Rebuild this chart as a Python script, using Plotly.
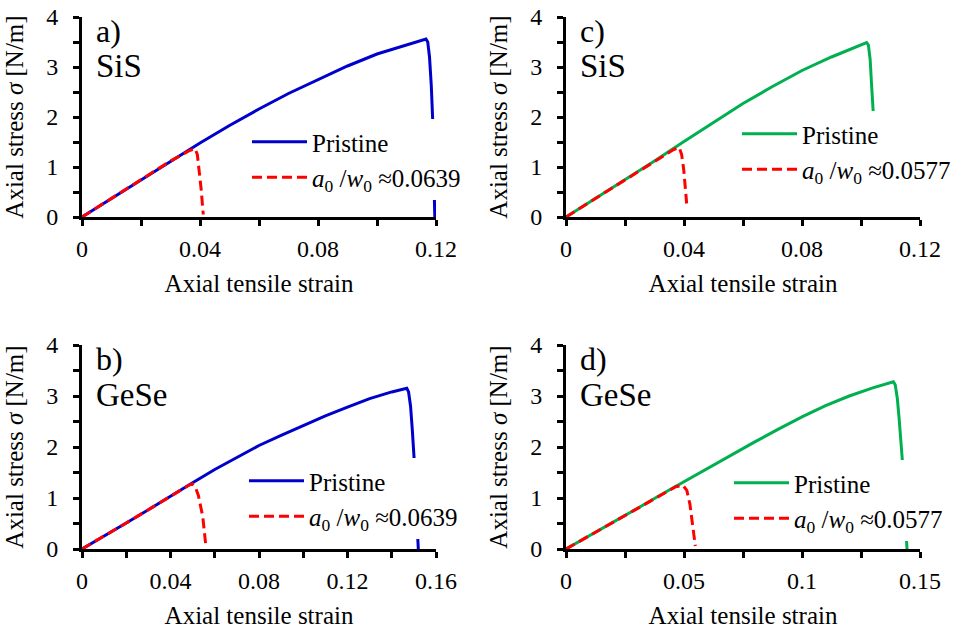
import plotly.graph_objects as go

# ---------------- data ----------------
# a) SiS, blue
a_pristine_strain = [0, 0.01, 0.02, 0.03, 0.04, 0.05, 0.06, 0.07, 0.08, 0.09, 0.10, 0.11, 0.1166, 0.1172, 0.1178, 0.1184, 0.1189, 0.1192, 0.1194, 0.1196]
a_pristine_stress = [0, 0.37, 0.75, 1.12, 1.48, 1.83, 2.16, 2.47, 2.75, 3.02, 3.26, 3.44, 3.56, 3.50, 3.20, 2.63, 1.91, 1.0, 0.21, 0.0]
a_crack_strain = [0, 0.01, 0.02, 0.03, 0.0365, 0.0383, 0.0391, 0.0397, 0.0404, 0.0411]
a_crack_stress = [0, 0.37, 0.75, 1.12, 1.33, 1.37, 1.25, 0.95, 0.55, 0.05]
a_crack_label = "<i>a</i><sub>0</sub> /<i>w</i><sub>0</sub> ≈0.0639"

# c) SiS, green
c_pristine_strain = [0, 0.01, 0.02, 0.03, 0.04, 0.05, 0.06, 0.07, 0.08, 0.09, 0.10, 0.1019, 0.1025, 0.1031, 0.1036, 0.1042, 0.1046]
c_pristine_stress = [0, 0.37, 0.74, 1.12, 1.51, 1.89, 2.27, 2.61, 2.93, 3.20, 3.44, 3.49, 3.44, 3.15, 2.63, 2.04, 1.2]
c_crack_strain = [0, 0.01, 0.02, 0.03, 0.0365, 0.0384, 0.0392, 0.0399, 0.0405, 0.0409]
c_crack_stress = [0, 0.37, 0.74, 1.12, 1.35, 1.39, 1.25, 0.95, 0.55, 0.27]
c_crack_label = "<i>a</i><sub>0</sub> /<i>w</i><sub>0</sub> ≈0.0577"

# b) GeSe, blue
b_pristine_strain = [0, 0.01, 0.02, 0.03, 0.04, 0.05, 0.06, 0.07, 0.08, 0.09, 0.10, 0.11, 0.12, 0.13, 0.14, 0.1468, 0.1476, 0.1485, 0.1493, 0.1502, 0.1510, 0.1516, 0.1520]
b_pristine_stress = [0, 0.25, 0.51, 0.77, 1.04, 1.30, 1.56, 1.80, 2.03, 2.23, 2.42, 2.61, 2.78, 2.95, 3.08, 3.15, 3.08, 2.80, 2.33, 1.71, 0.9, 0.37, 0.0]
b_crack_strain = [0, 0.01, 0.02, 0.03, 0.04, 0.0475, 0.0498, 0.0512, 0.0526, 0.0546, 0.0560]
b_crack_stress = [0, 0.25, 0.51, 0.77, 1.04, 1.23, 1.28, 1.22, 1.05, 0.63, 0.05]
b_crack_label = "<i>a</i><sub>0</sub> /<i>w</i><sub>0</sub> ≈0.0639"

# d) GeSe, green
d_pristine_strain = [0, 0.01, 0.02, 0.03, 0.04, 0.05, 0.06, 0.07, 0.08, 0.09, 0.10, 0.11, 0.12, 0.13, 0.1387, 0.1395, 0.1404, 0.1412, 0.1425, 0.1432, 0.1439, 0.1445]
d_pristine_stress = [0, 0.26, 0.52, 0.79, 1.06, 1.32, 1.59, 1.85, 2.10, 2.35, 2.59, 2.81, 3.00, 3.16, 3.28, 3.22, 2.95, 2.53, 1.75, 1.1, 0.50, 0.0]
d_crack_strain = [0, 0.01, 0.02, 0.03, 0.04, 0.0465, 0.0495, 0.0512, 0.0525, 0.0537, 0.0548]
d_crack_stress = [0, 0.26, 0.52, 0.79, 1.05, 1.22, 1.25, 1.15, 0.88, 0.50, 0.06]
d_crack_label = "<i>a</i><sub>0</sub> /<i>w</i><sub>0</sub> ≈0.0577"

# tick labels
x_ticks_012 = [0, 0.04, 0.08, 0.12]
x_ticktext_012 = ["0", "0.04", "0.08", "0.12"]
x_ticks_016 = [0, 0.04, 0.08, 0.12, 0.16]
x_ticktext_016 = ["0", "0.04", "0.08", "0.12", "0.16"]
x_ticks_015 = [0, 0.05, 0.1, 0.15]
x_ticktext_015 = ["0", "0.05", "0.1", "0.15"]
y_ticks = [0, 1, 2, 3, 4]
y_ticktext = ["0", "1", "2", "3", "4"]

panel_letters = ["a)", "c)", "b)", "d)"]
panel_materials = ["SiS", "SiS", "GeSe", "GeSe"]

BLUE = "#0000CC"
GREEN = "#00B050"
RED = "#FF0000"
FONT = "Liberation Serif"

# figure fills the whole 961x630 window (page body margin removed in post_script)
W, H = 961, 630


def fx(p):
    return p / W


def fy(p):
    return 1 - p / H


fig = go.Figure()

panels = [
    ("", a_pristine_strain, a_pristine_stress, a_crack_strain, a_crack_stress, a_crack_label, BLUE, "legend"),
    ("2", c_pristine_strain, c_pristine_stress, c_crack_strain, c_crack_stress, c_crack_label, GREEN, "legend2"),
    ("3", b_pristine_strain, b_pristine_stress, b_crack_strain, b_crack_stress, b_crack_label, BLUE, "legend3"),
    ("4", d_pristine_strain, d_pristine_stress, d_crack_strain, d_crack_stress, d_crack_label, GREEN, "legend4"),
]

for suf, px, py, cx, cy, clabel, col, leg in panels:
    fig.add_trace(go.Scatter(x=px, y=py, mode="lines", name="Pristine",
                             line=dict(color=col, width=3),
                             xaxis="x" + suf, yaxis="y" + suf, legend=leg))
    fig.add_trace(go.Scatter(x=cx, y=cy, mode="lines", name=clabel,
                             line=dict(color=RED, width=3, dash="10px,5px"),
                             xaxis="x" + suf, yaxis="y" + suf, legend=leg))

# window-pixel boxes of the four plot areas: (left, right, top, bottom)
boxes = {
    "": (82, 436, 17, 217),
    "2": (566, 920, 17, 217),
    "3": (82, 436, 345, 549),
    "4": (566, 920, 345, 549),
}
xinfo = {
    "": (0.12, 0.02, x_ticks_012, x_ticktext_012),
    "2": (0.12, 0.02, x_ticks_012, x_ticktext_012),
    "3": (0.16, 0.02, x_ticks_016, x_ticktext_016),
    "4": (0.15, 0.025, x_ticks_015, x_ticktext_015),
}

axis_common = dict(showline=True, linewidth=3, linecolor="black", mirror=False,
                   ticks="outside", ticklen=6, tickwidth=3, tickcolor="black",
                   showgrid=False, zeroline=False, automargin=False,
                   ticklabeloverflow="allow",
                   tickfont=dict(family=FONT, size=24, color="black"))

layout = {}
for suf, (l, r, t, b) in boxes.items():
    xmax, minor_dt, tv, tt = xinfo[suf]
    layout["xaxis" + suf] = dict(
        domain=[fx(l), fx(r)], anchor="y" + suf, range=[0, xmax],
        tickmode="array", tickvals=tv, ticktext=tt,
        minor=dict(dtick=minor_dt, tick0=0, ticks="outside", ticklen=6, tickwidth=3, tickcolor="black", showgrid=False),
        ticklabelstandoff=2,
        title=dict(text="Axial tensile strain", font=dict(family=FONT, size=25, color="black"), standoff=14),
        **axis_common)
    layout["yaxis" + suf] = dict(
        domain=[fy(b), fy(t)], anchor="x" + suf, range=[0, 4],
        tickmode="array", tickvals=y_ticks, ticktext=y_ticktext,
        minor=dict(dtick=0.5, tick0=0, ticks="outside", ticklen=6, tickwidth=3, tickcolor="black", showgrid=False),
        ticklabelstandoff=10,
        title=dict(text="Axial stress <i>σ</i> [N/m]", font=dict(family=FONT, size=25, color="black"), standoff=16),
        **axis_common)

legend_common = dict(bgcolor="white", borderwidth=0, font=dict(family=FONT, size=25, color="black"),
                     xanchor="left", yanchor="top", xref="paper", yref="paper",
                     itemwidth=55, tracegroupgap=0)
# window-pixel (left, top) of each legend box
legend_pos = {"legend": (247, 119), "legend2": (737, 111), "legend3": (244, 458), "legend4": (729, 460)}
for name, (lx, ty) in legend_pos.items():
    layout[name] = dict(x=fx(lx), y=fy(ty), **legend_common)

annotations = []
for i, suf in enumerate(["", "2", "3", "4"]):
    annotations.append(dict(text=panel_letters[i], xref=("x" + suf + " domain"), yref=("y" + suf + " domain"),
                            x=0.035, y=0.93, xanchor="left", yanchor="middle", showarrow=False,
                            font=dict(family=FONT, size=32, color="black")))
    annotations.append(dict(text=panel_materials[i], xref=("x" + suf + " domain"), yref=("y" + suf + " domain"),
                            x=0.035, y=0.755, xanchor="left", yanchor="middle", showarrow=False,
                            font=dict(family=FONT, size=33, color="black")))

fig.update_layout(width=W, height=H, autosize=False,
                  margin=dict(l=0, r=0, t=0, b=0, pad=0, autoexpand=False),
                  plot_bgcolor="white", paper_bgcolor="white",
                  font=dict(family=FONT, color="black"),
                  annotations=annotations, **layout)

fig.write_html("out.html", config={"displayModeBar": False},
               post_script="document.body.style.margin='0px';")
